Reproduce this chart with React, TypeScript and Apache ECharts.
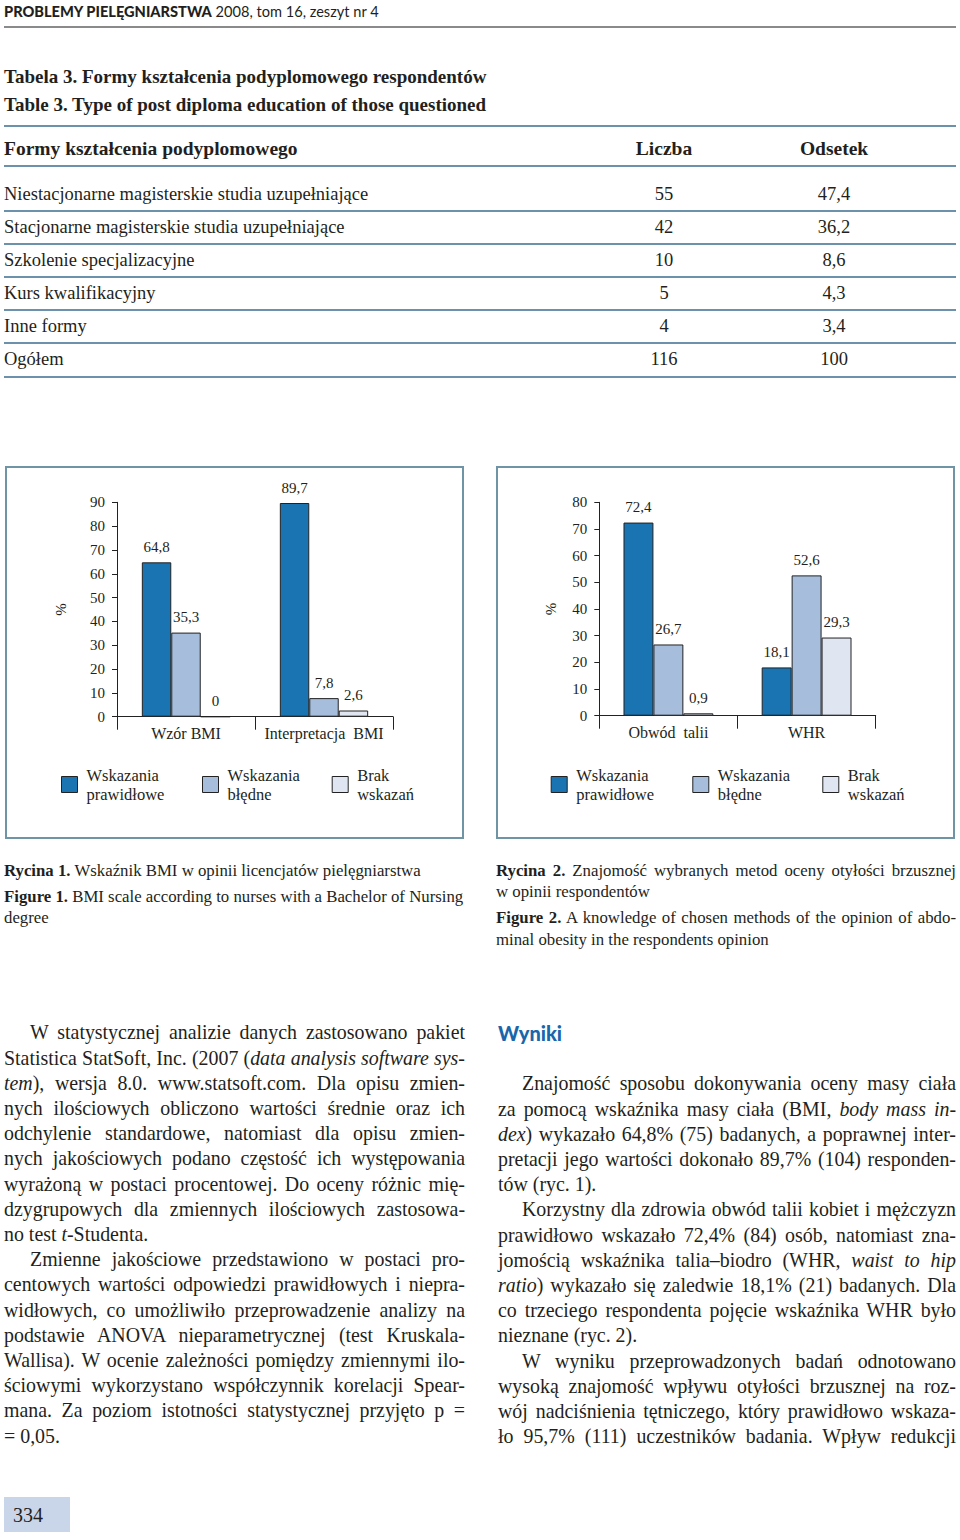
import React, { useEffect, useRef } from "react";
import * as echarts from "echarts";

// ---------- data ----------
const SERIES_NAMES = ["Wskazania prawidłowe", "Wskazania błędne", "Brak wskazań"];
const SERIES_COLORS = ["#1a74b2", "#a6bedc", "#dfe5f1"];

const FIG1_CATEGORIES = ["Wzór BMI", "Interpretacja  BMI"];
const FIG1_CORRECT = [64.8, 89.7];
const FIG1_WRONG = [35.3, 7.8];
const FIG1_NONE = [0, 2.6];
const FIG1_Y_MAX = 90;

const FIG2_CATEGORIES = ["Obwód  talii", "WHR"];
const FIG2_CORRECT = [72.4, 18.1];
const FIG2_WRONG = [26.7, 52.6];
const FIG2_NONE = [0.9, 29.3];
const FIG2_Y_MAX = 80;

const TABLE_FORMS = [
  "Niestacjonarne magisterskie studia uzupełniające",
  "Stacjonarne magisterskie studia uzupełniające",
  "Szkolenie specjalizacyjne",
  "Kurs kwalifikacyjny",
  "Inne formy",
  "Ogółem",
];
const TABLE_COUNTS = ["55", "42", "10", "5", "4", "116"];
const TABLE_PCTS = ["47,4", "36,2", "8,6", "4,3", "3,4", "100"];

const LEFT_LINES = [
  "W statystycznej analizie danych zastosowano pakiet",
  "Statistica StatSoft, Inc. (2007 (*data analysis software sys-*",
  "*tem*), wersja 8.0. www.statsoft.com. Dla opisu zmien-",
  "nych ilościowych obliczono wartości średnie oraz ich",
  "odchylenie standardowe, natomiast dla opisu zmien-",
  "nych jakościowych podano częstość ich występowania",
  "wyrażoną w postaci procentowej. Do oceny różnic mię-",
  "dzygrupowych dla zmiennych ilościowych zastosowa-",
  "no test *t*-Studenta.",
  "Zmienne jakościowe przedstawiono w postaci pro-",
  "centowych wartości odpowiedzi prawidłowych i niepra-",
  "widłowych, co umożliwiło przeprowadzenie analizy na",
  "podstawie ANOVA nieparametrycznej (test Kruskala-",
  "Wallisa). W ocenie zależności pomiędzy zmiennymi ilo-",
  "ściowymi wykorzystano współczynnik korelacji Spear-",
  "mana. Za poziom istotności statystycznej przyjęto p =",
  "= 0,05.",
];
const LEFT_INDENT = [0, 9];
const LEFT_LAST = [8, 16];

const RIGHT_LINES = [
  "Znajomość sposobu dokonywania oceny masy ciała",
  "za pomocą wskaźnika masy ciała (BMI, *body mass in-*",
  "*dex*) wykazało 64,8% (75) badanych, a poprawnej inter-",
  "pretacji jego wartości dokonało 89,7% (104) responden-",
  "tów (ryc. 1).",
  "Korzystny dla zdrowia obwód talii kobiet i mężczyzn",
  "prawidłowo wskazało 72,4% (84) osób, natomiast zna-",
  "jomością wskaźnika talia–biodro (WHR, *waist to hip*",
  "*ratio*) wykazało się zaledwie 18,1% (21) badanych. Dla",
  "co trzeciego respondenta pojęcie wskaźnika WHR było",
  "nieznane (ryc. 2).",
  "W wyniku przeprowadzonych badań odnotowano",
  "wysoką znajomość wpływu otyłości brzusznej na roz-",
  "wój nadciśnienia tętniczego, który prawidłowo wskaza-",
  "ło 95,7% (111) uczestników badania. Wpływ redukcji",
];
const RIGHT_INDENT = [0, 5, 11];
const RIGHT_LAST = [4, 10];

// ---------- styles ----------
const SERIF = "'Liberation Serif', 'Times New Roman', serif";
const SANS = "Lato, 'Noto Sans', sans-serif";
const TEXT_COLOR = "#231f20";
const RULE_COLOR = "#6b92aa";

function renderItalic(s: string) {
  const parts = s.split("*");
  return parts.map((p, i) =>
    i % 2 === 1 ? <i key={i}>{p}</i> : <React.Fragment key={i}>{p}</React.Fragment>
  );
}

function buildOption(cfg: {
  categories: string[];
  values: number[][];
  yMax: number;
  grid: { left: number; top: number; width: number; height: number };
  legendX: number[];
  legendTop: number;
  catGap: string;
  nameGap: number;
}) {
  const fmt = (p: any) => String(p.value).replace(".", ",");
  return {
    animation: false,
    textStyle: { fontFamily: SERIF },
    grid: cfg.grid,
    legend: SERIES_NAMES.map((n, i) => ({
      data: [n],
      left: cfg.legendX[i],
      top: cfg.legendTop,
      padding: 0,
      itemWidth: 16,
      itemHeight: 16,
      icon: "rect",
      selectedMode: false,
      formatter: (name: string) => name.replace(" ", "\n"),
      itemStyle: { borderColor: "#222", borderWidth: 1 },
      textStyle: {
        fontFamily: SERIF,
        fontSize: 16.5,
        color: TEXT_COLOR,
        lineHeight: 19,
        padding: [19, 0, 0, 4],
      },
    })),
    xAxis: {
      type: "category",
      data: cfg.categories,
      axisLine: { lineStyle: { color: "#222", width: 1 } },
      axisTick: { show: true, interval: 0, length: 13, lineStyle: { color: "#222", width: 1 } },
      axisLabel: { interval: 0, color: TEXT_COLOR, fontSize: 16, margin: 9, fontFamily: SERIF },
    },
    yAxis: {
      type: "value",
      min: 0,
      max: cfg.yMax,
      interval: 10,
      name: "%",
      nameLocation: "middle",
      nameRotate: 90,
      nameGap: cfg.nameGap,
      nameTextStyle: { color: TEXT_COLOR, fontSize: 15, fontFamily: SERIF },
      axisLine: { show: true, lineStyle: { color: "#222", width: 1 } },
      axisTick: { show: true, length: 5, lineStyle: { color: "#222", width: 1 } },
      splitLine: { show: false },
      axisLabel: { color: TEXT_COLOR, fontSize: 15, margin: 12, fontFamily: SERIF },
    },
    series: cfg.values.map((data, i) => ({
      type: "bar",
      name: SERIES_NAMES[i],
      data,
      barGap: "0%",
      barCategoryGap: cfg.catGap,
      itemStyle: { color: SERIES_COLORS[i], borderColor: "#222", borderWidth: 1 },
      label: {
        show: true,
        position: "top",
        distance: 8,
        formatter: fmt,
        fontSize: 15,
        color: TEXT_COLOR,
        fontFamily: SERIF,
      },
    })),
  };
}

function Chart({ option, left, top }: { option: any; left: number; top: number }) {
  const ref = useRef<HTMLDivElement>(null);
  useEffect(() => {
    if (!ref.current) return;
    const chart = echarts.init(ref.current, null, { renderer: "svg" });
    chart.setOption(option);
    return () => chart.dispose();
  }, [option]);
  return (
    <>
      <div ref={ref} style={{ position: "absolute", left, top, width: 459, height: 373 }} />
      <div
        style={{
          position: "absolute",
          left,
          top,
          width: 459,
          height: 373,
          boxSizing: "border-box",
          border: "2px solid #6f94a6",
          pointerEvents: "none",
        }}
      />
    </>
  );
}

const OPTION1 = buildOption({
  categories: FIG1_CATEGORIES,
  values: [FIG1_CORRECT, FIG1_WRONG, FIG1_NONE],
  yMax: FIG1_Y_MAX,
  grid: { left: 112, top: 36.3, width: 276, height: 214.4 },
  legendX: [56, 197, 326.7],
  legendTop: 290,
  catGap: "36%",
  nameGap: 49,
});

const OPTION2 = buildOption({
  categories: FIG2_CATEGORIES,
  values: [FIG2_CORRECT, FIG2_WRONG, FIG2_NONE],
  yMax: FIG2_Y_MAX,
  grid: { left: 103.3, top: 36.3, width: 276.4, height: 213.4 },
  legendX: [54.7, 196.3, 326.3],
  legendTop: 290,
  catGap: "35%",
  nameGap: 41,
});

function TextLines({
  lines,
  x,
  w,
  y0,
  indentStarts,
  lastLines,
  indent,
}: {
  lines: string[];
  x: number;
  w: number;
  y0: number;
  indentStarts: number[];
  lastLines: number[];
  indent: number;
}) {
  return (
    <>
      {lines.map((l, i) => {
        const ind = indentStarts.includes(i) ? indent : 0;
        const last = lastLines.includes(i);
        return (
          <div
            key={i}
            style={{
              position: "absolute",
              left: x + ind,
              top: y0 + i * 25.2 - 12.6,
              width: w - ind,
              height: 25.2,
              lineHeight: "25.2px",
              fontSize: 19.9,
              fontFamily: SERIF,
              whiteSpace: "nowrap",
              textAlign: last ? "left" : "justify",
              textAlignLast: last ? "left" : "justify",
            } as any}
          >
            {renderItalic(l)}
          </div>
        );
      })}
    </>
  );
}

function Abs({
  x,
  y,
  w,
  size,
  children,
  style,
}: {
  x: number;
  y: number;
  w?: number;
  size: number;
  children: any;
  style?: any;
}) {
  return (
    <div
      style={{
        position: "absolute",
        left: x,
        top: y - size * 0.65,
        width: w,
        height: size * 1.3,
        lineHeight: `${size * 1.3}px`,
        fontSize: size,
        whiteSpace: "nowrap",
        fontFamily: SERIF,
        ...style,
      }}
    >
      {children}
    </div>
  );
}

export default function App() {
  const ruleYs = [126, 166, 211, 244, 277, 310, 343, 377];
  const rowYs = [194, 227, 260, 293, 326, 359];
  return (
    <div
      style={{
        position: "absolute",
        left: 0,
        top: 0,
        width: 960,
        height: 1540,
        background: "#fff",
        color: TEXT_COLOR,
        overflow: "hidden",
      }}
    >
      {/* header */}
      <Abs x={4} y={12} size={14.6} style={{ fontFamily: SANS }}>
        <span style={{ fontWeight: 900 }}>PROBLEMY PIELĘGNIARSTWA</span>
        <span style={{ fontWeight: 400 }}> 2008, tom 16, zeszyt nr 4</span>
      </Abs>
      <div style={{ position: "absolute", left: 4, top: 26, width: 952, height: 1.5, background: "#8a8a8a" }} />

      {/* table titles */}
      <Abs x={4} y={77} size={19} style={{ fontWeight: 700 }}>
        Tabela 3. Formy kształcenia podyplomowego respondentów
      </Abs>
      <Abs x={4} y={105} size={19} style={{ fontWeight: 700 }}>
        Table 3. Type of post diploma education of those questioned
      </Abs>

      {ruleYs.map((y, i) => (
        <div
          key={i}
          style={{ position: "absolute", left: 4, top: y - 1, width: 952, height: 2, background: RULE_COLOR }}
        />
      ))}
      <Abs x={4} y={149} size={19.5} style={{ fontWeight: 700 }}>
        Formy kształcenia podyplomowego
      </Abs>
      <Abs x={604} y={149} w={120} size={19.5} style={{ fontWeight: 700, textAlign: "center" }}>
        Liczba
      </Abs>
      <Abs x={774} y={149} w={120} size={19.5} style={{ fontWeight: 700, textAlign: "center" }}>
        Odsetek
      </Abs>
      {TABLE_FORMS.map((f, i) => (
        <React.Fragment key={i}>
          <Abs x={4} y={rowYs[i]} size={18.5}>
            {f}
          </Abs>
          <Abs x={604} y={rowYs[i]} w={120} size={18.5} style={{ textAlign: "center" }}>
            {TABLE_COUNTS[i]}
          </Abs>
          <Abs x={774} y={rowYs[i]} w={120} size={18.5} style={{ textAlign: "center" }}>
            {TABLE_PCTS[i]}
          </Abs>
        </React.Fragment>
      ))}

      {/* charts */}
      <Chart option={OPTION1} left={5} top={466} />
      <Chart option={OPTION2} left={496} top={466} />

      {/* captions */}
      <Abs x={4} y={871} size={16.8}>
        <b>Rycina 1.</b> Wskaźnik BMI w opinii licencjatów pielęgniarstwa
      </Abs>
      <Abs x={4} y={897} size={16.8}>
        <b>Figure 1.</b> BMI scale according to nurses with a Bachelor of Nursing
      </Abs>
      <Abs x={4} y={918} size={16.8}>
        degree
      </Abs>
      <Abs x={496} y={871} w={460} size={16.8} style={{ textAlign: "justify", textAlignLast: "justify" }}>
        <b>Rycina 2.</b> Znajomość wybranych metod oceny otyłości brzusznej
      </Abs>
      <Abs x={496} y={892} size={16.8}>
        w opinii respondentów
      </Abs>
      <Abs x={496} y={918} w={460} size={16.8} style={{ textAlign: "justify", textAlignLast: "justify" }}>
        <b>Figure 2.</b> A knowledge of chosen methods of the opinion of abdo-
      </Abs>
      <Abs x={496} y={940} size={16.8}>
        minal obesity in the respondents opinion
      </Abs>

      {/* body text */}
      <TextLines
        lines={LEFT_LINES}
        x={4}
        w={461}
        y0={1033}
        indentStarts={LEFT_INDENT}
        lastLines={LEFT_LAST}
        indent={26}
      />
      <Abs x={498} y={1033} size={20} style={{ fontFamily: SANS, fontWeight: 900, color: "#1a66aa" }}>
        Wyniki
      </Abs>
      <TextLines
        lines={RIGHT_LINES}
        x={498}
        w={458}
        y0={1084}
        indentStarts={RIGHT_INDENT}
        lastLines={RIGHT_LAST}
        indent={24}
      />

      {/* page number */}
      <div
        style={{
          position: "absolute",
          left: 4,
          top: 1497,
          width: 66,
          height: 35,
          background: "#c9d6ea",
        }}
      />
      <Abs x={13} y={1515} size={20}>
        334
      </Abs>
    </div>
  );
}
